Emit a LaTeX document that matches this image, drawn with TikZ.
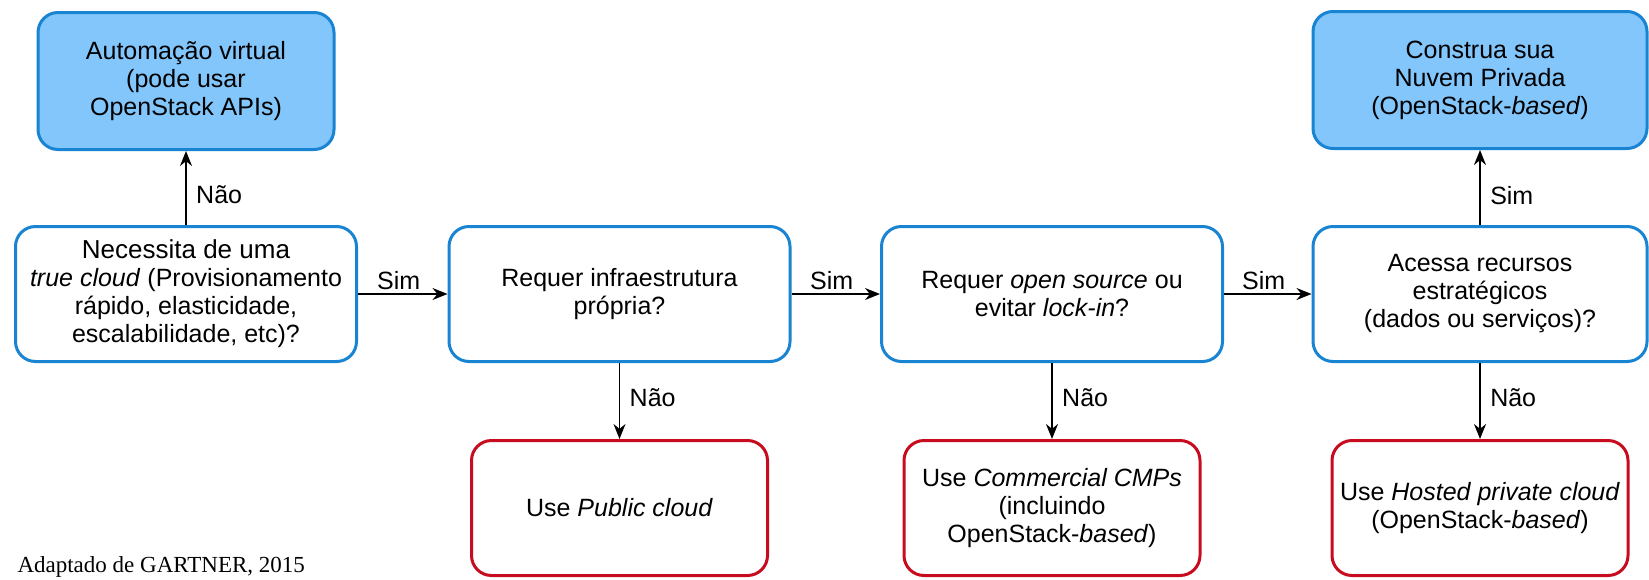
\documentclass[tikz,border=0pt]{standalone}
\usepackage{fontspec}
\setmainfont{Liberation Sans}
\newfontfamily\timesfont{Liberation Serif}
\usetikzlibrary{arrows.meta}
\definecolor{qblue}{RGB}{24,132,210}
\definecolor{qfill}{RGB}{130,198,252}
\definecolor{qred}{RGB}{200,12,32}

\begin{document}
\begin{tikzpicture}[x=1pt,y=-1pt,
    box/.style={draw,line width=3pt,rounded corners=20pt,align=center,
      inner sep=0pt,font=\fontsize{25}{28}\selectfont},
    ask/.style={box,draw=qblue,fill=white,minimum width=341,minimum height=135},
    ok/.style={box,draw=qblue,fill=qfill,minimum height=137},
    stop/.style={box,draw=qred,fill=white,minimum width=296,minimum height=135},
    seta/.style={line width=1.8pt,-{Stealth[length=15pt,width=12pt]}},
    lbl/.style={font=\fontsize{25}{28}\selectfont},
    lado/.style={lbl,right,xshift=6pt}]
    \useasboundingbox (0,0) rectangle (1649,579);
    % perguntas
    \node[ask] (need) at (186,294) {{\fontsize{26}{28}\selectfont Necessita de uma}\\\textit{true cloud} (Provisionamento\\rápido, elasticidade,\\escalabilidade, etc)?};
    \node[ask] (infra) at (619.5,294) {Requer infraestrutura\\própria?};
    \node[ask] (oss) at (1052,294) {Requer \textit{open source} ou\\evitar \textit{lock-in}?};
    \node[ask,minimum width=334] (acc) at (1480,294) {Acessa recursos\\estratégicos\\(dados ou serviços)?};
    % respostas
    \node[ok,minimum width=296] (auto) at (186,81) {Automação virtual\\(pode usar\\OpenStack APIs)};
    \node[ok,minimum width=334] (priv) at (1480,80) {Construa sua\\Nuvem Privada\\(OpenStack-\textit{based})};
    \node[stop] (pub) at (619.5,508) {Use \textit{Public cloud}};
    \node[stop] (cmp) at (1052,508) {Use \textit{Commercial CMPs}\\(incluindo\\OpenStack-\textit{based})};
    \node[stop] (host) at (1480,508) {Use \textit{Hosted private cloud}\\(OpenStack-\textit{based})};
    % setas
    \draw[seta] (need) -- node[lado,pos=.41] {Não} (auto);
    \draw[seta] (need) -- node[lbl,above,xshift=-4pt] {Sim} (infra);
    \draw[seta] (infra) -- node[lbl,above,xshift=-4pt] {Sim} (oss);
    \draw[seta] (oss) -- node[lbl,above,xshift=-4pt] {Sim} (acc);
    \draw[seta] (acc) -- node[lado,pos=.39] {Sim} (priv);
    \draw[seta] (infra) -- node[lado,pos=.46] {Não} (pub);
    \draw[seta] (oss) -- node[lado,pos=.46] {Não} (cmp);
    \draw[seta] (acc) -- node[lado,pos=.46] {Não} (host);
    \node[font=\timesfont\fontsize{23}{26}\selectfont,anchor=base west] (src) at (14,572) {Adaptado de GARTNER, 2015};
\end{tikzpicture}
\end{document}
